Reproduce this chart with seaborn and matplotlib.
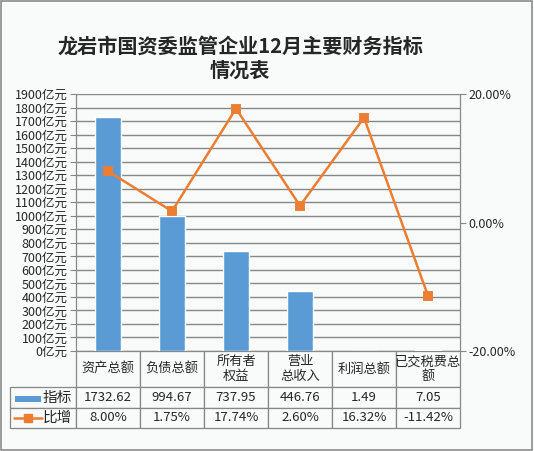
"""龙岩市国资委监管企业12月主要财务指标情况表 — bar + line combo with data table."""
import matplotlib
matplotlib.use("Agg")
import matplotlib.pyplot as plt
import seaborn as sns
from matplotlib.lines import Line2D
from matplotlib.patches import Rectangle
from matplotlib.ticker import FuncFormatter, MultipleLocator

CATEGORIES = ["资产总额", "负债总额", "所有者\n权益", "营业\n总收入", "利润总额", "已交税费总\n额"]
VALUES = [1732.62, 994.67, 737.95, 446.76, 1.49, 7.05]
GROWTH = [8.00, 1.75, 17.74, 2.60, 16.32, -11.42]
VALUE_TEXT = ["1732.62", "994.67", "737.95", "446.76", "1.49", "7.05"]
GROWTH_TEXT = ["8.00%", "1.75%", "17.74%", "2.60%", "16.32%", "-11.42%"]
SERIES = ["指标", "比增"]
TITLE = "龙岩市国资委监管企业12月主要财务指标\n情况表"

BLUE = "#5B9BD5"
ORANGE = "#ED7D31"
GRID = "#878787"
BG = "#F9FBFB"

sns.set_style("white")
plt.rcParams["font.family"] = ["Noto Sans CJK SC", "DejaVu Sans"]
plt.rcParams["axes.unicode_minus"] = False

W, H = 534, 451
fig = plt.figure(figsize=(W / 100, H / 100), dpi=100, facecolor=BG)

# plot area in pixels: x 76..460, y 94..351
ax = fig.add_axes([76 / W, 1 - 351 / H, 384 / W, 257 / H], facecolor=BG)
sns.barplot(x=list(range(len(VALUES))), y=VALUES, color=BLUE, width=0.4,
            saturation=1, ax=ax, zorder=3)
ax.set_ylim(0, 1900)
ax.set_xlim(-0.5, len(VALUES) - 0.5)
ax.yaxis.set_major_locator(MultipleLocator(100))
ax.yaxis.set_major_formatter(FuncFormatter(lambda v, p: f"{v:.0f}亿元"))
ax.grid(axis="y", color=GRID, linewidth=1.0, zorder=0)
ax.set_xticks([])
ax.tick_params(axis="y", length=4, width=0.8, color=GRID, pad=2, labelsize=9)
for side in ["top", "right", "bottom"]:
    ax.spines[side].set_visible(False)
ax.spines["left"].set_color(GRID)
ax.spines["left"].set_linewidth(0.9)
ax.set_xlabel("")

ax2 = ax.twinx()
sns.pointplot(x=list(range(len(GROWTH))), y=GROWTH, color=ORANGE, markers="s",
              markersize=6, linewidth=1.8, ax=ax2, zorder=4)
ax2.set_ylim(-20, 20)
ax2.set_xlim(-0.5, len(GROWTH) - 0.5)
ax2.set_yticks([-20, 0, 20])
ax2.yaxis.set_major_formatter(FuncFormatter(lambda v, p: f"{v:.2f}%"))
ax2.tick_params(axis="y", length=4, width=0.8, color=GRID, pad=2, labelsize=9)
ax2.set_xticks([])
ax2.set_xlabel("")
for side in ["top", "left", "bottom"]:
    ax2.spines[side].set_visible(False)
ax2.spines["right"].set_color(GRID)
ax2.spines["right"].set_linewidth(0.9)

# data table under the plot: x 10..460, y 351..428 (first column holds series names)
cell_text = [[SERIES[0]] + VALUE_TEXT, [SERIES[1]] + GROWTH_TEXT]
tbl = ax.table(cellText=cell_text, colLabels=[""] + CATEGORIES, cellLoc="center",
               bbox=[(10 - 76) / 384, -(428 - 351) / 257, 450 / 384, 77 / 257])
tbl.auto_set_font_size(False)
tbl.set_fontsize(9.5)
for (r, c), cell in tbl.get_celld().items():
    cell.set_edgecolor(GRID)
    cell.set_linewidth(0.9)
    cell.set_facecolor(BG)
    cell.set_width(66 if c == 0 else 64)
    cell.set_height(36 if r == 0 else 20)
    if c == 0:
        cell._loc = "right"
        cell.get_text().set_horizontalalignment("right")
        cell.get_text().set_fontsize(10.5)
        cell.PAD = 0.06
        if r == 0:
            cell.visible_edges = "open"

# legend keys inside the series name cells
fig.patches.append(Rectangle((15 / W, 1 - 402 / H), 26 / W, 6 / H,
                             transform=fig.transFigure, facecolor=BLUE,
                             edgecolor="none"))
fig.lines.append(Line2D([14 / W, 42 / W], [1 - 418 / H] * 2,
                        transform=fig.transFigure, color=ORANGE, linewidth=1.8))
fig.lines.append(Line2D([28 / W], [1 - 418 / H], transform=fig.transFigure,
                        color=ORANGE, marker="s", markersize=6, linestyle="none"))

fig.text(240 / W, 1 - 58 / H, TITLE, ha="center", va="center", fontsize=14.5,
         fontweight="bold", linespacing=1.2)

# outer frame
fig.patches.append(Rectangle((0.5 / W, 1.5 / H), (W - 2.5) / W, (H - 2.5) / H,
                             transform=fig.transFigure, facecolor="none",
                             edgecolor="#8C8C8C", linewidth=1.2))

fig.savefig("out.png", dpi=100, facecolor=BG)
